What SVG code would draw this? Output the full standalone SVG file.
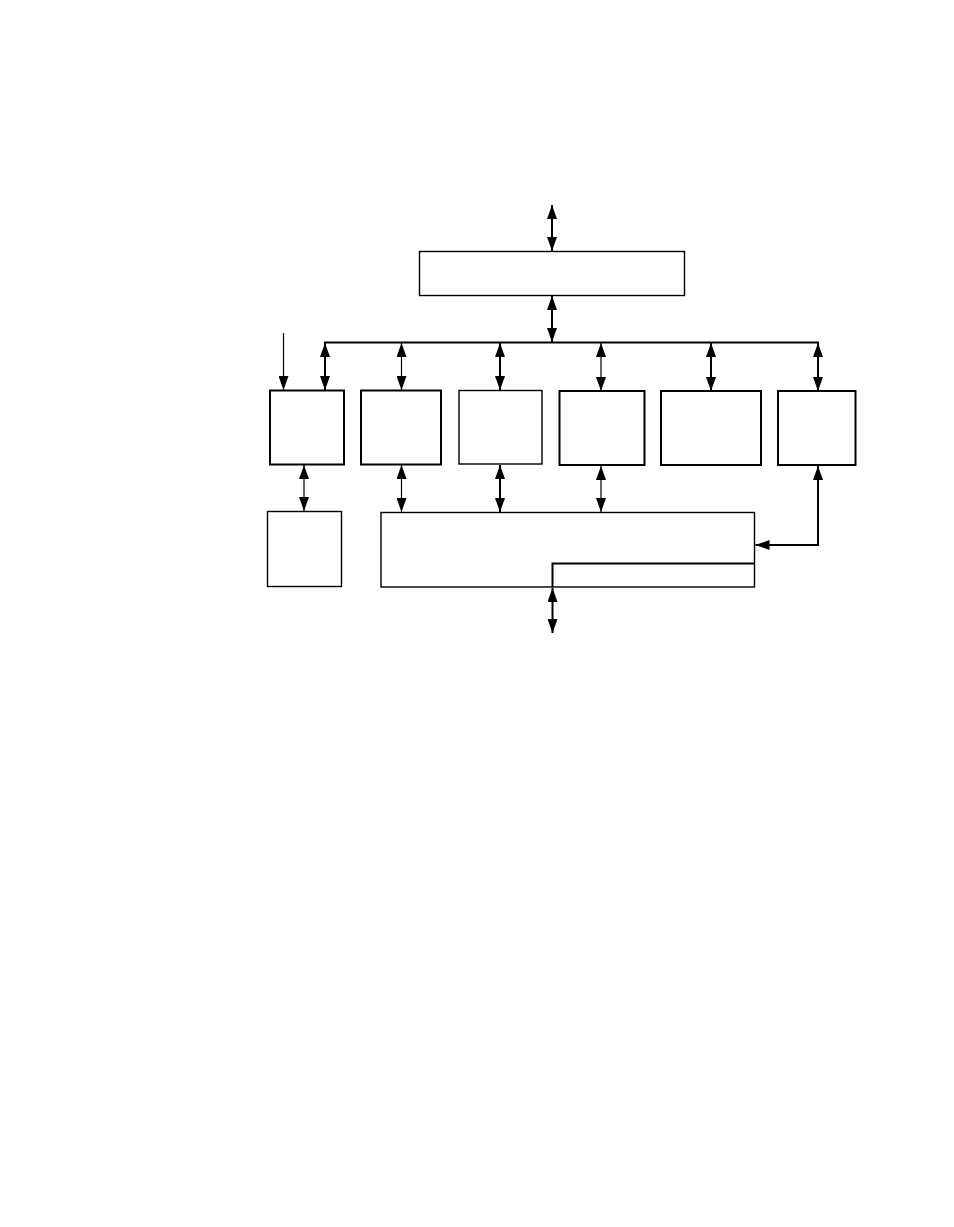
<svg xmlns="http://www.w3.org/2000/svg" width="954" height="1227" viewBox="0 0 954 1227">
<style>
.box{fill:#fff;stroke:#000;stroke-width:2}
.thin{stroke-width:1.4}
.c{fill:none;stroke:#000;stroke-width:2}
.t{stroke-width:1.2}
.a2{marker-start:url(#ah);marker-end:url(#ah)}
.a1{marker-end:url(#ah)}
</style>
<defs>
<marker id="ah" markerUnits="userSpaceOnUse" markerWidth="14" markerHeight="10" refX="14" refY="5" orient="auto-start-reverse" viewBox="0 0 14 10">
<path d="M0,0 L14,5 L0,10 z" fill="#000"/>
</marker>
</defs>
<rect width="954" height="1227" fill="#fff"/>
<g id="top"><rect class="box thin" x="419.5" y="251.5" width="265" height="44"/></g>
<g id="box1"><rect class="box" x="270" y="390.5" width="74" height="74"/></g>
<g id="box2"><rect class="box" x="361" y="390.5" width="80" height="74"/></g>
<g id="box3"><rect class="box thin" x="459" y="390.5" width="83" height="73.5"/></g>
<g id="box4"><rect class="box" x="559.5" y="391" width="85" height="74"/></g>
<g id="box5"><rect class="box" x="661" y="391" width="100" height="74"/></g>
<g id="box6"><rect class="box" x="778" y="391" width="77.5" height="74"/></g>
<g id="box7"><rect class="box thin" x="267.5" y="511.5" width="74" height="75" stroke="#222"/></g>
<g id="big"><rect class="box thin" x="381" y="512.5" width="373.5" height="74.5"/>
<path class="c" d="M552.5,587 L552.5,563.5 L754,563.5"/></g>
<g id="connectors">
<line class="c a2" x1="552" y1="205" x2="552" y2="251"/>
<line class="c a2" x1="552" y1="296" x2="552" y2="342"/>
<line class="c" x1="324" y1="342.5" x2="819" y2="342.5"/>
<line class="c t a1" x1="283.5" y1="333" x2="283.5" y2="390"/>
<line class="c a2" x1="325" y1="343" x2="325" y2="390"/>
<line class="c t a2" x1="401.5" y1="343" x2="401.5" y2="390"/>
<line class="c a2" x1="500" y1="343" x2="500" y2="390"/>
<line class="c t a2" x1="601" y1="343" x2="601" y2="391"/>
<line class="c a2" x1="711" y1="343" x2="711" y2="391"/>
<line class="c a2" x1="818" y1="343" x2="818" y2="391"/>
<line class="c t a2" x1="304" y1="465" x2="304" y2="511"/>
<line class="c t a2" x1="401.5" y1="465" x2="401.5" y2="512"/>
<line class="c a2" x1="500" y1="465" x2="500" y2="512"/>
<line class="c t a2" x1="601" y1="466" x2="601" y2="512"/>
<path class="c a2" d="M818,466 L818,545 L755.5,545"/>
<line class="c a2" x1="552.5" y1="588" x2="552.5" y2="633"/>
</g>
</svg>
